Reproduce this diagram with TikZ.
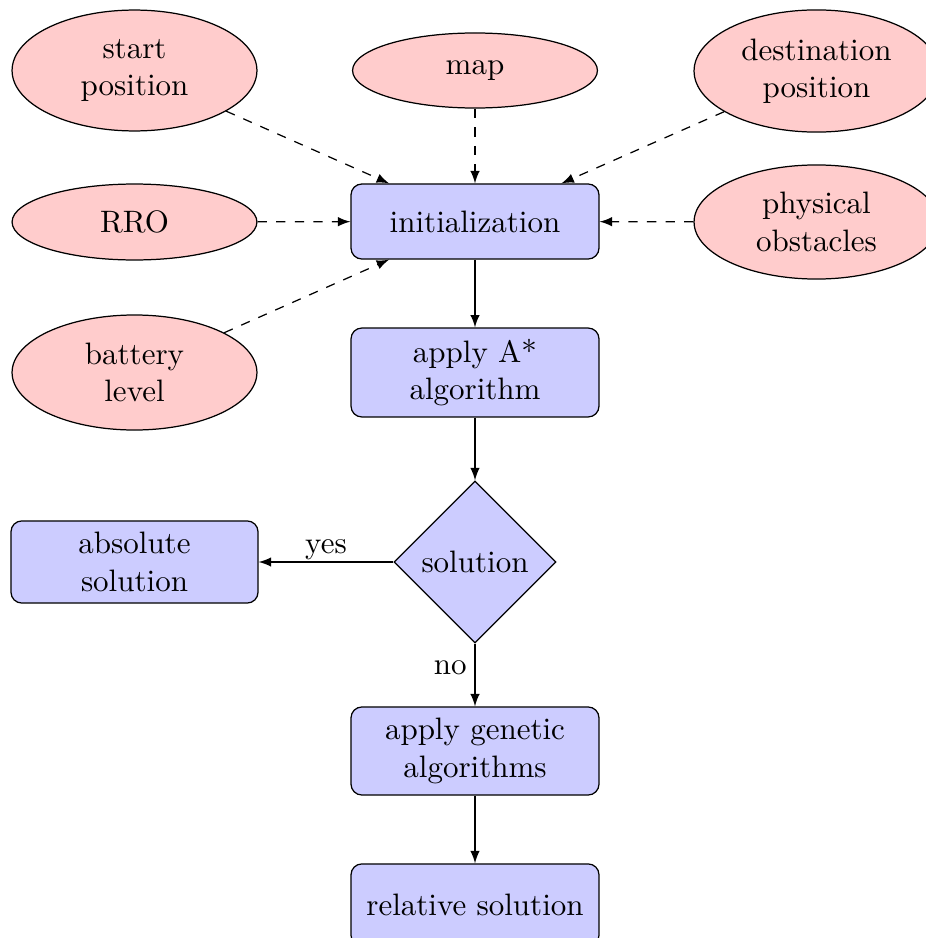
\documentclass[tikz,border=0pt]{standalone}
\usetikzlibrary{shapes.geometric,arrows}
\begin{document}
\begin{tikzpicture}[x=0.3226pt,y=-0.3226pt,
  inputnode/.style={ellipse, draw, fill=red!20, align=center, inner sep=0pt, minimum width=79pt},
  blocknode/.style={rectangle, draw, fill=blue!20, rounded corners=3.5pt, align=center, inner sep=0pt, minimum width=80pt},
  decisionnode/.style={diamond, draw, fill=blue!20, inner sep=0pt, minimum width=52.3pt, minimum height=52.3pt},
  flow/.style={draw, -latex},
  feed/.style={draw, dashed, -latex}]
\useasboundingbox (0,0) rectangle (926,938);
\clip (0,0) rectangle (926,938);

% input ellipses
\node[inputnode, minimum height=39pt] (start) at (134.5,70.5) {start\\position};
\node[inputnode, minimum height=24.2pt] (map) at (475,70.5) {map};
\node[inputnode, minimum height=39.4pt] (dest) at (816.5,71) {destination\\position};
\node[inputnode, minimum height=24.5pt] (rro) at (134.5,222) {RRO};
\node[inputnode, minimum height=36.8pt] (phys) at (816.5,222) {physical\\obstacles};
\node[inputnode, minimum height=37.1pt] (batt) at (134.5,372.5) {battery\\level};

% process blocks
\node[blocknode, minimum height=24.2pt] (init) at (475,221.5) {initialization};
\node[blocknode, minimum height=28.7pt] (astar) at (475,372.5) {apply A*\\algorithm};
\node[decisionnode] (dec) at (475,562) {solution};
\node[blocknode, minimum width=79.7pt, minimum height=26.5pt] (abs) at (134.5,562) {absolute\\solution};
\node[blocknode, minimum height=28.4pt] (gen) at (475,751) {apply genetic\\algorithms};
\node[blocknode, minimum height=26.5pt] (rel) at (475,905) {relative solution};

% inputs feeding the initialization
\path[feed] (start) -- (init);
\path[feed] (map) -- (init);
\path[feed] (dest) -- (init);
\path[feed] (rro) -- (init);
\path[feed] (phys) -- (init);
\path[feed] (batt) -- (init);

% main flow
\path[flow] (init) -- (astar);
\path[flow] (astar) -- (dec);
\path[flow] (dec) -- node[above, inner sep=0.6pt] {yes} (abs);
\path[flow] (dec) -- node[left, pos=0.38, inner sep=2.5pt] {no} (gen);
\path[flow] (gen) -- (rel);
\end{tikzpicture}
\end{document}
